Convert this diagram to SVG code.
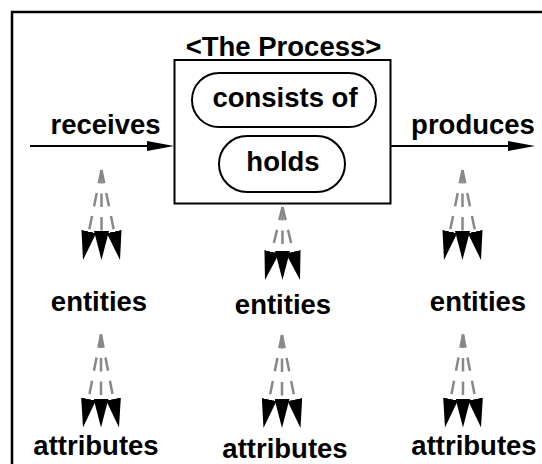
<svg xmlns="http://www.w3.org/2000/svg" width="542" height="464" viewBox="0 0 542 464">
<defs>
<style>
.t{font-family:"Liberation Sans",Arial,sans-serif;font-weight:bold;font-size:27.5px;fill:#000;text-anchor:middle}
.box{fill:none;stroke:#000;stroke-width:2}
.fan line{stroke:#888;stroke-width:2.5;stroke-dasharray:13.5 10;marker-end:url(#ah)}
.main{stroke:#000;stroke-width:2;marker-end:url(#ah2)}
</style>
<marker id="ah" markerUnits="userSpaceOnUse" viewBox="0 0 29 15" markerWidth="29" markerHeight="15" refX="0" refY="7.5" orient="auto"><path d="M0,0 L29,7.5 L0,15 z" fill="#000"/></marker>
<marker id="ah2" markerUnits="userSpaceOnUse" viewBox="0 0 27 10" markerWidth="27" markerHeight="10" refX="0" refY="5" orient="auto"><path d="M0,0 L27,5 L0,10 z" fill="#000"/></marker>
</defs>
<rect x="12" y="12" width="540" height="470" fill="none" stroke="#000" stroke-width="2.5"/>
<g id="process">
<text class="t" x="283.5" y="56">&lt;The Process&gt;</text>
<rect class="box" x="174.5" y="60" width="216" height="143.5"/>
</g>
<g id="consists">
<rect class="box" x="192" y="73" width="184" height="54" rx="27"/>
<text class="t" x="285" y="107">consists of</text>
</g>
<g id="holds">
<rect class="box" x="219" y="136" width="126" height="56" rx="28"/>
<text class="t" x="283" y="171">holds</text>
</g>
<g id="receives"><text class="t" x="105.5" y="134">receives</text></g>
<g id="produces"><text class="t" x="473" y="134">produces</text></g>
<g id="entities-left"><text class="t" x="99" y="311">entities</text></g>
<g id="entities-mid"><text class="t" x="283" y="314">entities</text></g>
<g id="entities-right"><text class="t" x="478" y="311">entities</text></g>
<g id="attributes-left"><text class="t" x="96" y="455">attributes</text></g>
<g id="attributes-mid"><text class="t" x="285" y="458">attributes</text></g>
<g id="attributes-right"><text class="t" x="474" y="455">attributes</text></g>
<g id="connectors">
<line class="main" x1="30" y1="146" x2="147" y2="146"/>
<line class="main" x1="391" y1="146" x2="508" y2="146"/>
<g class="fan" transform="translate(101.5,170)">
<line x1="0" y1="0" x2="-12.66" y2="61.59"/><line x1="0" y1="0" x2="0" y2="61"/><line x1="0" y1="0" x2="12.66" y2="61.59"/>
</g>
<g class="fan" transform="translate(462.5,170)">
<line x1="0" y1="0" x2="-12.66" y2="61.59"/><line x1="0" y1="0" x2="0" y2="61"/><line x1="0" y1="0" x2="12.66" y2="61.59"/>
</g>
<g class="fan" transform="translate(282.5,207)">
<line x1="0" y1="0" x2="-10.74" y2="44.8"/><line x1="0" y1="0" x2="0" y2="44"/><line x1="0" y1="0" x2="10.74" y2="44.8"/>
</g>
<g class="fan" transform="translate(101,334.5)">
<line x1="0" y1="0" x2="-12.49" y2="64.53"/><line x1="0" y1="0" x2="0" y2="64"/><line x1="0" y1="0" x2="12.49" y2="64.53"/>
</g>
<g class="fan" transform="translate(282,335)">
<line x1="0" y1="0" x2="-12.84" y2="64.56"/><line x1="0" y1="0" x2="0" y2="64"/><line x1="0" y1="0" x2="12.84" y2="64.56"/>
</g>
<g class="fan" transform="translate(463,334.5)">
<line x1="0" y1="0" x2="-12.49" y2="64.53"/><line x1="0" y1="0" x2="0" y2="64"/><line x1="0" y1="0" x2="12.49" y2="64.53"/>
</g>
</g>
</svg>
